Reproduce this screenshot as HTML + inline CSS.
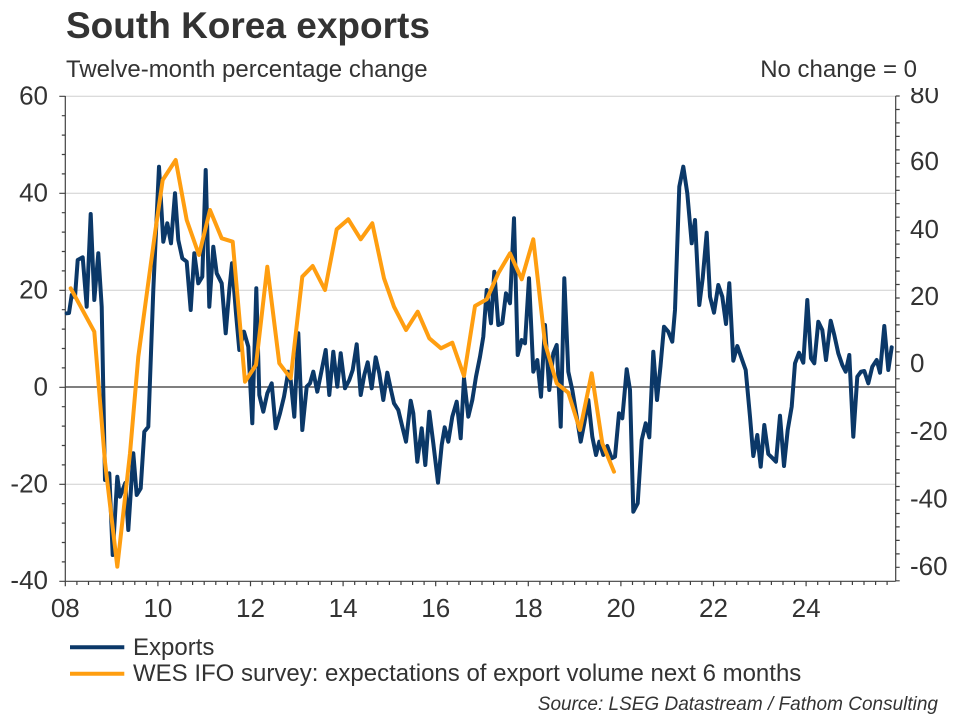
<!DOCTYPE html>
<html>
<head>
<meta charset="utf-8">
<style>
html,body{margin:0;padding:0;background:#fff;}
body{width:960px;height:720px;overflow:hidden;}
svg{display:block;}
text{font-family:"Liberation Sans",Arial,sans-serif;fill:#333;}
</style>
</head>
<body>
<svg width="960" height="720" viewBox="0 0 960 720" xmlns="http://www.w3.org/2000/svg">
<defs>
<clipPath id="topclip"><rect x="0" y="88" width="960" height="632"/></clipPath>
</defs>
<rect width="960" height="720" fill="#fff"/>

<!-- Titles -->
<text x="66" y="38" font-size="37" font-weight="bold" fill="#333">South Korea exports</text>
<text x="66" y="77" font-size="24">Twelve-month percentage change</text>
<text x="917" y="77" font-size="24" text-anchor="end">No change = 0</text>

<!-- Gridlines -->
<g stroke="#cfcfcf" stroke-width="1">
<line x1="65" y1="96.3" x2="895.7" y2="96.3"/>
<line x1="65" y1="193.3" x2="895.7" y2="193.3"/>
<line x1="65" y1="290.3" x2="895.7" y2="290.3"/>
<line x1="65" y1="484.3" x2="895.7" y2="484.3"/>
</g>
<line x1="65" y1="387" x2="895.7" y2="387" stroke="#333" stroke-width="1.2"/>

<!-- Axes -->
<g stroke="#404040" stroke-width="1.2" fill="none">
<line x1="65.3" y1="96" x2="65.3" y2="581.3"/>
<line x1="895.7" y1="96" x2="895.7" y2="581.3"/>
<line x1="65.3" y1="581.3" x2="895.7" y2="581.3"/>
<!-- left ticks -->
<path d="M59.3 96.3H65.3M61.8 115.7H65.3M61.8 135.1H65.3M61.8 154.5H65.3M61.8 173.9H65.3M59.3 193.3H65.3M61.8 212.7H65.3M61.8 232.1H65.3M61.8 251.5H65.3M61.8 270.9H65.3M59.3 290.3H65.3M61.8 309.7H65.3M61.8 329.1H65.3M61.8 348.5H65.3M61.8 367.9H65.3M59.3 387.3H65.3M61.8 406.7H65.3M61.8 426.1H65.3M61.8 445.5H65.3M61.8 464.9H65.3M59.3 484.3H65.3M61.8 503.7H65.3M61.8 523.1H65.3M61.8 542.5H65.3M61.8 561.9H65.3M59.3 581.3H65.3"/>
<!-- right ticks -->
<path d="M895.7 96h4M895.7 109.5h4M895.7 122.9h4M895.7 136.4h4M895.7 149.9h4M895.7 163.3h4M895.7 176.8h4M895.7 190.3h4M895.7 203.7h4M895.7 217.2h4M895.7 230.7h4M895.7 244.1h4M895.7 257.6h4M895.7 271.1h4M895.7 284.5h4M895.7 298h4M895.7 311.5h4M895.7 324.9h4M895.7 338.4h4M895.7 351.9h4M895.7 365.3h4M895.7 378.8h4M895.7 392.3h4M895.7 405.7h4M895.7 419.2h4M895.7 432.7h4M895.7 446.1h4M895.7 459.6h4M895.7 473.1h4M895.7 486.5h4M895.7 500h4M895.7 513.5h4M895.7 526.9h4M895.7 540.4h4M895.7 553.9h4M895.7 567.3h4M895.7 580.8h4"/>
<!-- x ticks -->
<path d="M65.3 581.3v5M76.9 581.3v3.7M88.5 581.3v3.7M100 581.3v3.7M111.6 581.3v3.7M123.2 581.3v3.7M134.8 581.3v3.7M146.3 581.3v3.7M157.9 581.3v5M169.5 581.3v3.7M181.1 581.3v3.7M192.6 581.3v3.7M204.2 581.3v3.7M215.8 581.3v3.7M227.4 581.3v3.7M238.9 581.3v3.7M250.5 581.3v5M262.1 581.3v3.7M273.7 581.3v3.7M285.2 581.3v3.7M296.8 581.3v3.7M308.4 581.3v3.7M320 581.3v3.7M331.5 581.3v3.7M343.1 581.3v5M354.7 581.3v3.7M366.3 581.3v3.7M377.8 581.3v3.7M389.4 581.3v3.7M401 581.3v3.7M412.6 581.3v3.7M424.1 581.3v3.7M435.7 581.3v5M447.3 581.3v3.7M458.9 581.3v3.7M470.4 581.3v3.7M482 581.3v3.7M493.6 581.3v3.7M505.2 581.3v3.7M516.7 581.3v3.7M528.3 581.3v5M539.9 581.3v3.7M551.5 581.3v3.7M563 581.3v3.7M574.6 581.3v3.7M586.2 581.3v3.7M597.8 581.3v3.7M609.3 581.3v3.7M620.9 581.3v5M632.5 581.3v3.7M644.1 581.3v3.7M655.6 581.3v3.7M667.2 581.3v3.7M678.8 581.3v3.7M690.4 581.3v3.7M701.9 581.3v3.7M713.5 581.3v5M725.1 581.3v3.7M736.7 581.3v3.7M748.2 581.3v3.7M759.8 581.3v3.7M771.4 581.3v3.7M783 581.3v3.7M794.5 581.3v3.7M806.1 581.3v5M817.7 581.3v3.7M829.3 581.3v3.7M840.8 581.3v3.7M852.4 581.3v3.7M864 581.3v3.7M875.6 581.3v3.7M887.1 581.3v3.7"/>
</g>

<!-- Left axis labels -->
<g font-size="26" text-anchor="end">
<text x="48" y="104.5">60</text>
<text x="48" y="201.5">40</text>
<text x="48" y="298.5">20</text>
<text x="48" y="395.5">0</text>
<text x="48" y="492.5">-20</text>
<text x="48" y="589">-40</text>
</g>
<!-- Right axis labels -->
<g font-size="26" clip-path="url(#topclip)">
<text x="910" y="103">80</text>
<text x="910" y="170">60</text>
<text x="910" y="238">40</text>
<text x="910" y="305">20</text>
<text x="910" y="372">0</text>
<text x="910" y="440">-20</text>
<text x="910" y="507.5">-40</text>
<text x="910" y="575">-60</text>
</g>
<!-- X labels -->
<g font-size="26" text-anchor="middle">
<text x="65.3" y="617">08</text>
<text x="157.9" y="617">10</text>
<text x="250.5" y="617">12</text>
<text x="343.1" y="617">14</text>
<text x="435.7" y="617">16</text>
<text x="528.3" y="617">18</text>
<text x="620.9" y="617">20</text>
<text x="713.5" y="617">22</text>
<text x="806.1" y="617">24</text>
</g>

<!-- Exports series -->
<polyline fill="none" stroke="#0b3868" stroke-width="4" stroke-linejoin="round" stroke-linecap="round" points="66.7,313.3 69,313 71.7,295 75,297 77.7,260 82.7,257.3 86.7,306.7 90.7,214 94.3,300 98.3,253.3 101.7,306.7 105,480 109.3,473.3 112.7,555 117.3,476.7 120,496.7 125.3,483 128.3,530 133.3,453.3 136.7,495 140.7,488.3 144.3,431.7 148.3,426.7 153.3,290 159,166.7 163.3,241.7 167.3,223.3 171,243.3 175,193.3 178.3,240 182.3,258.3 186.7,261.7 190.7,310 194.3,253.3 198.3,283.3 202.3,276.7 205.7,170 209.3,306.7 213.3,246.7 216.7,273.3 221.7,283.3 225.7,333.3 229.3,290 232,263.3 236,313.3 239.3,350 244,331.7 248.3,346.7 252.3,423.3 256.3,288.3 259.3,395 263.3,411.7 267.3,393.3 271.7,383.3 275.7,428.3 280,413.3 284,396.7 288.3,371.7 290.7,380 294.3,416.7 298.3,333.3 302.3,430 306.7,386.7 310,383.3 313.3,371.7 317.3,391.7 321.7,370 325.7,350 329.3,395 333.3,351.7 337.3,386.7 340.7,353.3 345,388.3 349.3,380 352.7,370 356.7,344.3 360.7,395 364.3,375 367.7,362.3 371.7,388.3 375.7,357.3 379.3,373.3 383.3,400 387.3,372.7 391,390 394,403.3 398.3,410 402.3,426.7 406,441.7 410.7,400.7 413.3,413.3 417.3,461.7 421.7,428.3 425.3,465 429.3,411.7 433.3,443.3 438,482.7 441.7,445 444.7,427.3 448.3,441.7 452.3,416.7 456.7,401.7 460.7,438.3 464,378.3 468.3,416.7 472.3,400 476,376.7 480,356.7 483.3,336.7 486.7,290 491,323.3 494.3,271.7 498.3,325 502.3,323.3 506,293.3 510,303.3 514,218.3 517.7,355 521.7,340 525,343.3 529,278.3 533.3,371.7 537.3,360 541,396.7 545,325 549.3,390 553.3,353.3 556.7,345 560.7,426.7 564.3,278.3 568.3,371.7 572.3,390 576.7,416.7 580.7,441.7 584.3,423.3 588.3,400 592.3,436.7 596,455 599.3,441.7 603.3,455 607.3,446 611.7,458.3 615,456.7 619,413.3 622.3,418.3 626.7,369.3 630,390 633.3,511.7 637.7,503.3 641.7,440 645.7,423.3 649.3,437.3 653.3,351.7 657,400 660.5,366 664,326.7 668.3,331.7 672.3,341.7 675,310 679.3,186.7 683.3,166.7 687.3,193.3 691.7,243.3 695,220 699.3,305 702.7,278.3 706.7,232.7 710,296.7 714,312.7 718.3,285 722.3,296.7 726,324 729.3,283.3 733.3,360.7 737.3,346 741,356.7 745.7,370 750,416.7 753.3,456 757.3,435 760.7,466.7 764.3,425 768.3,454 772.7,458.3 776,461.7 780,415.7 784,466 787.7,430 791.7,406.7 795,363.3 799,352.7 803.3,362.7 807.3,300 811,358.3 814.3,363.3 818.3,321.7 822.3,330 826,360 830.7,320.7 834.3,335 838.3,353.3 842.3,365 845.7,371.7 849.3,355 853.3,436.7 857.3,376.7 861,371.7 864.3,371 868.3,383.3 872.3,366.7 876.7,360 880,372.7 884.3,326 888.3,370 891.7,347.3"/>

<!-- WES series -->
<polyline fill="none" stroke="#ff9e10" stroke-width="4" stroke-linejoin="round" stroke-linecap="round" points="70.7,288.3 94.3,331.7 105,462 117.3,566.7 130,453.3 138.3,356.7 147.3,290 155,233.3 162.7,180 175.7,160 186.7,220 199,255 210,210 221.7,238.3 232.7,241.7 245,381.7 256,365 267.3,266.7 279.3,363.3 290.7,378.3 302.3,276.7 312.7,266 325,290 336.7,229.3 348.3,219.3 360.7,239.3 372.3,223.3 384,278.3 394,306.7 406,330 417.7,311.7 429.3,338.3 441,348.3 452.3,342.7 464,376 475,306 486.7,299.3 498.3,273.3 510,253.3 521.7,279.3 533.3,239.3 545,343.3 556.7,383.3 568.3,392.7 580,430 591.7,373.3 602.3,443.3 614,471.7"/>

<!-- Legend -->
<line x1="70" y1="647.3" x2="124.3" y2="647.3" stroke="#0b3868" stroke-width="4"/>
<line x1="70" y1="673.7" x2="124.3" y2="673.7" stroke="#ff9e10" stroke-width="4"/>
<text x="133" y="655" font-size="24">Exports</text>
<text x="133" y="681" font-size="24">WES IFO survey: expectations of export volume next 6 months</text>

<!-- Source -->
<text x="938" y="710" font-size="19" font-style="italic" text-anchor="end">Source: LSEG Datastream / Fathom Consulting</text>
</svg>
</body>
</html>
